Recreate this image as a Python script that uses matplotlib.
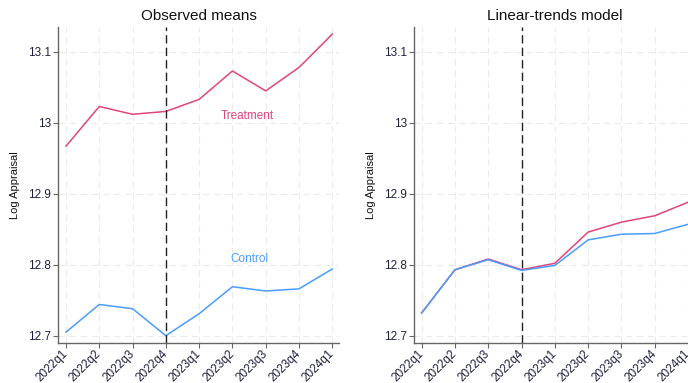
import matplotlib
matplotlib.use("Agg")
import matplotlib.pyplot as plt

plt.rcParams['font.family'] = ['Liberation Sans', 'DejaVu Sans']

quarters = ["2022q1", "2022q2", "2022q3", "2022q4", "2023q1",
            "2023q2", "2023q3", "2023q4", "2024q1"]

# observed group means
obs_treatment = [12.967, 13.023, 13.012, 13.016, 13.033, 13.073, 13.045, 13.078, 13.125]
obs_control = [12.705, 12.744, 12.738, 12.700, 12.731, 12.769, 12.763, 12.766, 12.794]

# fitted values from the linear-trends model
lt_treatment = [12.732, 12.793, 12.808, 12.793, 12.802, 12.846, 12.860, 12.869, 12.888]
lt_control = [12.732, 12.793, 12.807, 12.792, 12.799, 12.835, 12.843, 12.844, 12.857]

yticks = [12.7, 12.8, 12.9, 13.0, 13.1]
ytick_labels = ["12.7", "12.8", "12.9", "13", "13.1"]
event_idx = 3  # 2022q4

RED = "#e0457b"
BLUE = "#4a9cff"
TEXT = "#1f1f3f"

W, H = 688, 383
fig = plt.figure(figsize=(W / 100, H / 100), dpi=100)
bottom, top = 343, 27
ax_w = 281


def style_axes(ax, title):
    xs = range(len(quarters))
    ax.set_xlim(-0.23, len(quarters) - 1 + 0.21)
    ax.set_ylim(12.6897, 13.135)
    ax.set_xticks(list(xs))
    ax.set_xticklabels(quarters, rotation=45, ha="right", va="center",
                       rotation_mode="anchor", fontsize=8.5, color=TEXT)
    ax.set_yticks(yticks)
    ax.set_yticklabels(ytick_labels, fontsize=8.5, color=TEXT)
    ax.grid(True, color="#ebebeb", linestyle=(0, (6, 4)), linewidth=0.8)
    ax.set_axisbelow(True)
    for side in ("top", "right"):
        ax.spines[side].set_visible(False)
    for side in ("left", "bottom"):
        ax.spines[side].set_color("#666666")
        ax.spines[side].set_linewidth(1.0)
    ax.tick_params(direction="out", length=3.5, color="#666666", width=0.8, pad=1.5)
    ax.tick_params(axis="x", pad=3)
    ax.axvline(event_idx, color="#222222", linestyle=(0, (6, 3)), linewidth=1.0)
    ax.set_ylabel("Log Appraisal", fontsize=8, color="#111111")
    ax.yaxis.set_label_coords(-0.136, 0.5)
    ax.set_title(title, fontsize=11, color="#111111", pad=5)


ax1 = fig.add_axes([58.3 / W, (H - bottom) / H, ax_w / W, (bottom - top) / H])
ax2 = fig.add_axes([414 / W, (H - bottom) / H, ax_w / W, (bottom - top) / H])

x = list(range(len(quarters)))
ax1.plot(x, obs_treatment, color=RED, linewidth=1.1)
ax1.plot(x, obs_control, color=BLUE, linewidth=1.1)
ax1.text(5.45, 13.009, "Treatment", color=RED, fontsize=8.5, ha="center", va="center")
ax1.text(5.5, 12.8085, "Control", color=BLUE, fontsize=8.5, ha="center", va="center")
style_axes(ax1, "Observed means")

ax2.plot(x, lt_treatment, color=RED, linewidth=1.1)
ax2.plot(x, lt_control, color=BLUE, linewidth=1.1)
style_axes(ax2, "Linear-trends model")

fig.savefig("out.png", dpi=100)
